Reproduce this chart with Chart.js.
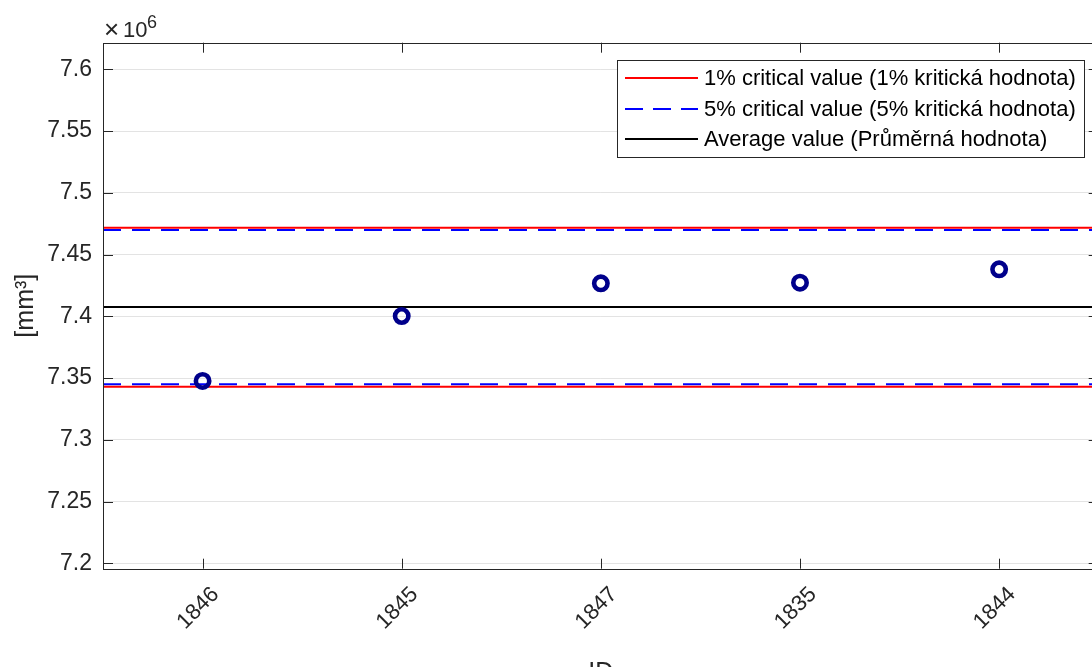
<!DOCTYPE html>
<html><head><meta charset="utf-8">
<script src="https://cdn.jsdelivr.net/npm/chart.js@4"></script>
<style>
html,body{margin:0;padding:0;overflow:hidden;background:#fff;width:1092px;height:667px}
#wrap{position:absolute;left:0;top:0;width:1110px;height:700px}
</style></head><body><div id="wrap"><canvas id="c" width="1110" height="700"></canvas></div>
<script>
// ---- data ----
const ids = ['1846', '1845', '1847', '1835', '1844'];
const volumes = [7347600, 7400200, 7426700, 7427200, 7438000];
const crit1 = [7343000, 7471700];
const crit5 = [7344900, 7469900];
const average = [7407500];
const yTicks = [7200000, 7250000, 7300000, 7350000, 7400000, 7450000, 7500000, 7550000, 7600000];
const yRange = [7195600, 7621500];
const xRange = [-0.5, 4.5];
const legendLabels = ['1% critical value (1% kritická hodnota)', '5% critical value (5% kritická hodnota)', 'Average value (Průměrná hodnota)'];

const FONT = '"Liberation Sans", Arial, Helvetica, sans-serif';
const TXT = '#262626';
const RED = '#ff0000', BLUE = '#0000ff', BLACK = '#000000', NAVY = '#00008b';

function hline(v, color, dash) {
  return {
    type: 'scatter', showLine: true,
    data: [{x: xRange[0], y: v}, {x: xRange[1], y: v}],
    borderColor: color, borderWidth: 2, borderDash: dash || [],
    pointRadius: 0, pointHoverRadius: 0, fill: false
  };
}

const datasets = [
  {
    type: 'scatter',
    data: volumes.map((v, i) => ({x: i, y: v})),
    pointRadius: 6.7, pointBorderWidth: 4.6, pointHoverRadius: 6.7,
    borderColor: NAVY, backgroundColor: 'rgba(0,0,0,0)', showLine: false
  },
  ...crit1.map(v => hline(v, RED)),
  ...crit5.map(v => hline(v, BLUE, [18, 11])),
  ...average.map(v => hline(v, BLACK))
];

const decor = {
  id: 'decor',
  afterDraw(chart) {
    const ctx = chart.ctx;
    const a = chart.chartArea;
    const xs = chart.scales.x, ys = chart.scales.y;
    ctx.save();
    // tick marks (inward)
    ctx.strokeStyle = TXT; ctx.lineWidth = 1;
    ctx.beginPath();
    ids.forEach((_, i) => {
      const px = Math.round(xs.getPixelForValue(i)) + 0.5;
      ctx.moveTo(px, a.bottom); ctx.lineTo(px, a.bottom - 10);
      ctx.moveTo(px, a.top); ctx.lineTo(px, a.top + 10);
    });
    yTicks.forEach(v => {
      const py = Math.round(ys.getPixelForValue(v)) + 0.5;
      ctx.moveTo(a.left, py); ctx.lineTo(a.left + 10, py);
      ctx.moveTo(a.right, py); ctx.lineTo(a.right - 10, py);
    });
    ctx.stroke();
    // box
    ctx.strokeStyle = TXT; ctx.lineWidth = 1;
    ctx.strokeRect(Math.round(a.left) + 0.5, Math.round(a.top) + 0.5, Math.round(a.right - a.left), Math.round(a.bottom - a.top));
    // exponent
    ctx.fillStyle = TXT;
    ctx.textBaseline = 'alphabetic'; ctx.textAlign = 'left';
    ctx.font = '26px ' + FONT;
    ctx.fillText('\u00d7', 104, 38);
    ctx.font = '22px ' + FONT;
    ctx.fillText('10', 123, 37);
    ctx.font = '18px ' + FONT;
    ctx.fillText('6', 147, 28);
    // legend
    const lx = 617, ly = 60, lw = 467, lh = 97;
    ctx.fillStyle = '#ffffff';
    ctx.fillRect(lx, ly, lw, lh);
    ctx.strokeStyle = TXT; ctx.lineWidth = 1;
    ctx.strokeRect(lx + 0.5, ly + 0.5, lw, lh);
    const styles = [[RED, []], [BLUE, [18, 10]], [BLACK, []]];
    const rows = [78, 109, 139];
    ctx.font = '22px ' + FONT;
    ctx.textBaseline = 'middle';
    legendLabels.forEach((t, i) => {
      ctx.strokeStyle = styles[i][0]; ctx.lineWidth = 2; ctx.setLineDash(styles[i][1]);
      ctx.beginPath(); ctx.moveTo(625, rows[i]); ctx.lineTo(698, rows[i]); ctx.stroke();
      ctx.setLineDash([]);
      ctx.fillStyle = '#000';
      ctx.fillText(t, 704, rows[i] + 1);
    });
    ctx.restore();
  }
};

new Chart(document.getElementById('c'), {
  type: 'scatter',
  data: {datasets},
  options: {
    responsive: false, animation: false, devicePixelRatio: 1,
    events: [],
    layout: {padding: {top: 42.7, right: 9, left: 0, bottom: 0}},
    plugins: {legend: {display: false}, tooltip: {enabled: false}},
    scales: {
      x: {
        type: 'linear', min: xRange[0], max: xRange[1],
        afterBuildTicks: s => { s.ticks = ids.map((_, i) => ({value: i})); },
        afterFit: s => { s.height = 131.3; },
        grid: {display: false, drawTicks: false},
        border: {display: false},
        ticks: {
          autoSkip: false, minRotation: 45, maxRotation: 45, padding: 13, labelOffset: 13,
          color: TXT, font: {family: FONT, size: 22},
          callback: v => ids[v]
        },
        title: {display: true, text: 'ID', color: TXT, font: {family: FONT, size: 25}, padding: {top: 0, bottom: 12}}
      },
      y: {
        type: 'linear', min: yRange[0], max: yRange[1],
        afterBuildTicks: s => { s.ticks = yTicks.map(v => ({value: v})); },
        afterFit: s => { s.width = 103; },
        grid: {color: '#e3e3e3', lineWidth: 1, drawTicks: false},
        border: {display: false},
        ticks: {
          padding: 11, color: TXT, font: {family: FONT, size: 23},
          callback: v => String(parseFloat((v / 1e6).toFixed(2)))
        },
        title: {display: true, text: '[mm\u00b3]', color: TXT, font: {family: FONT, size: 25}, padding: {top: 11, bottom: 0}}
      }
    }
  },
  plugins: [decor]
});
</script></body></html>
